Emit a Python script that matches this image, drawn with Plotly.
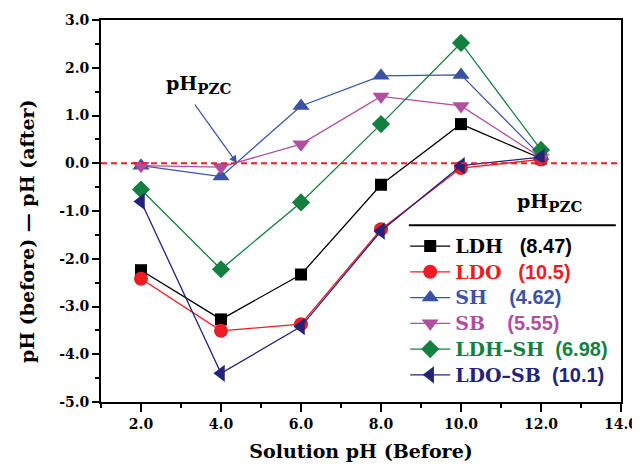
import plotly.graph_objects as go

x_ph = [2, 4, 6, 8, 10, 12]
ldh = [-2.24, -3.27, -2.33, -0.45, 0.82, 0.10]
ldo = [-2.42, -3.51, -3.37, -1.38, -0.10, 0.08]
sh = [-0.05, -0.28, 1.20, 1.83, 1.85, 0.15]
sb = [-0.05, -0.08, 0.40, 1.40, 1.20, 0.12]
ldh_sh = [-0.55, -2.22, -0.82, 0.82, 2.52, 0.28]
ldo_sb = [-0.80, -4.40, -3.42, -1.42, -0.05, 0.13]

names = ["LDH", "LDO", "SH", "SB", "LDH\u2013SH", "LDO\u2013SB"]
pzc = ["(8.47)", "(10.5)", "(4.62)", "(5.55)", "(6.98)", "(10.1)"]
gaps = [3, 3, 4, 4, 2, 2]
series = [ldh, ldo, sh, sb, ldh_sh, ldo_sb]
colors = ["#000000", "#ee1c24", "#3a53a4", "#b04fa0", "#138040", "#24237a"]
symbols = ["square", "circle", "triangle-up", "triangle-down", "diamond", "triangle-left"]
sizes = [12, 14, 15, 15, 14, 15]

fig = go.Figure()
for nm, val, g, ys, c, s, sz in zip(names, pzc, gaps, series, colors, symbols, sizes):
    label = (f"<span style='color:{c}'><span style='font-size:19px'><b>{nm}</b></span>{'&nbsp;' * g}"
             f"<span style='font-family:Liberation Sans;font-size:20px'><b>{val}</b></span></span>")
    fig.add_trace(go.Scatter(
        x=x_ph, y=ys, mode="lines+markers", name=label,
        line=dict(color=c, width=1.3),
        marker=dict(symbol=s, size=sz, color=c),
    ))

fig.add_hline(y=0, line=dict(color="#ee1c24", width=2, dash="6px,4px"))

pzc_text = "<b>pH<sub><span style='font-size:15px'>PZC</span></sub></b>"
fig.add_annotation(x=3.44, y=1.64, xref="x", yref="y", showarrow=False,
                   xanchor="center", yanchor="middle", text=pzc_text,
                   font=dict(family="DejaVu Serif", size=19, color="#000"))
fig.add_annotation(x=4.4, y=0, xref="x", yref="y", ax=3.32, ay=1.26,
                   axref="x", ayref="y", text="", showarrow=True,
                   arrowhead=2, arrowsize=1.3, arrowwidth=1.2, arrowcolor="#3a53a4")

fig.add_annotation(x=0.863, y=0.52, xref="paper", yref="paper", showarrow=False,
                   xanchor="center", yanchor="middle", text=pzc_text,
                   font=dict(family="DejaVu Serif", size=19, color="#000"))
fig.add_shape(type="line", xref="paper", yref="paper", x0=0.592, x1=0.99,
              y0=0.463, y1=0.463, line=dict(color="#000", width=2))

fig.add_annotation(x=-0.142, y=0.448, xref="paper", yref="paper", showarrow=False,
                   xanchor="center", yanchor="middle", textangle=-90,
                   text="<b>pH (before) \u2014 pH (after)</b>",
                   font=dict(family="DejaVu Serif", size=19, color="#000"))

fig.update_layout(
    width=632, height=460,
    margin=dict(l=93, r=19, t=12, b=66),
    paper_bgcolor="white", plot_bgcolor="white",
    font=dict(family="DejaVu Serif", color="#000"),
    showlegend=True,
    legend=dict(x=0.585, y=0.455, xanchor="left", yanchor="top",
                bgcolor="rgba(0,0,0,0)", borderwidth=0,
                font=dict(family="DejaVu Serif", size=17.5),
                tracegroupgap=0, itemwidth=40),
    xaxis=dict(range=[1, 14], tickvals=[2, 4, 6, 8, 10, 12, 14],
               ticktext=["<b>2.0</b>", "<b>4.0</b>", "<b>6.0</b>", "<b>8.0</b>",
                         "<b>10.0</b>", "<b>12.0</b>", "<b>14.0</b>"],
               ticks="outside", ticklen=8, tickwidth=1.5, tickcolor="#000",
               minor=dict(tickvals=[1, 3, 5, 7, 9, 11, 13], ticks="outside",
                          ticklen=4, tickwidth=1.5, tickcolor="#000"),
               showline=True, linecolor="#000", linewidth=1.8, mirror=True,
               showgrid=False, zeroline=False, automargin=False,
               tickfont=dict(family="DejaVu Serif", size=14),
               title=dict(text="<b>Solution pH (Before)</b>",
                          font=dict(family="DejaVu Serif", size=19), standoff=14)),
    yaxis=dict(range=[-5, 3], tickvals=[-5, -4, -3, -2, -1, 0, 1, 2, 3],
               ticktext=["<b>-5.0</b>", "<b>-4.0</b>", "<b>-3.0</b>", "<b>-2.0</b>",
                         "<b>-1.0</b>", "<b>0.0</b>", "<b>1.0</b>", "<b>2.0</b>", "<b>3.0</b>"],
               ticks="outside", ticklen=7, tickwidth=1.5, tickcolor="#000",
               minor=dict(tickvals=[-4.5, -3.5, -2.5, -1.5, -0.5, 0.5, 1.5, 2.5],
                          ticks="outside", ticklen=4, tickwidth=1.5, tickcolor="#000"),
               showline=True, linecolor="#000", linewidth=1.8, mirror=True,
               showgrid=False, zeroline=False, automargin=False,
               tickfont=dict(family="DejaVu Serif", size=14)),
)

fig.write_html("out.html")
